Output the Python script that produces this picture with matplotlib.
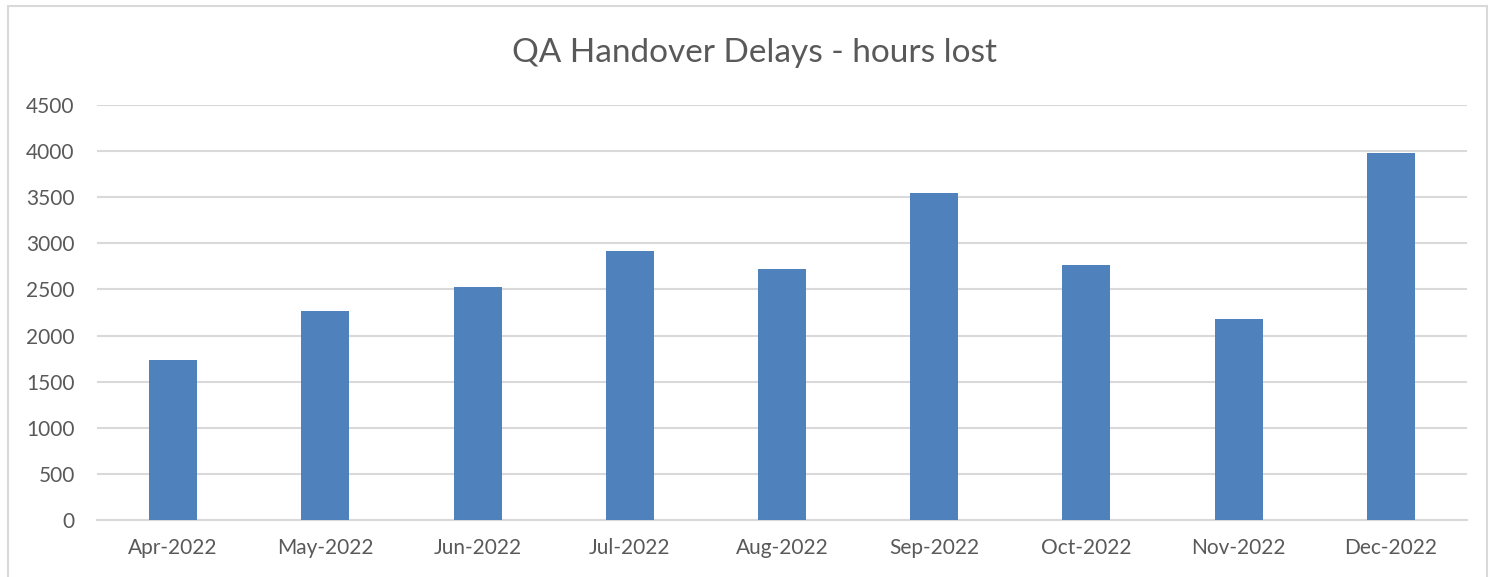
import matplotlib.pyplot as plt
from matplotlib.patches import Rectangle

months = ['Apr-2022', 'May-2022', 'Jun-2022', 'Jul-2022', 'Aug-2022',
          'Sep-2022', 'Oct-2022', 'Nov-2022', 'Dec-2022']
hours_lost = [1735, 2270, 2530, 2915, 2720, 3545, 2765, 2175, 3980]
y_ticks = [0, 500, 1000, 1500, 2000, 2500, 3000, 3500, 4000, 4500]

plt.rcParams['font.family'] = ['Lato', 'DejaVu Sans']
text_color = '#595959'
grid_color = '#d9d9d9'

fig = plt.figure(figsize=(15.01, 5.77), dpi=100)
ax = fig.add_axes([97 / 1501, 1 - 520 / 577, 1370 / 1501, 415 / 577])

ax.bar(range(len(months)), hours_lost, width=0.315, color='#4F81BD', zorder=3)

ax.set_xlim(-0.5, len(months) - 0.5)
ax.set_ylim(0, 4500)
ax.set_yticks(y_ticks)
ax.set_yticklabels([str(t) for t in y_ticks])
ax.set_xticks(range(len(months)))
ax.set_xticklabels(months)

ax.grid(axis='y', color=grid_color, linewidth=1.5, zorder=0)
for side in ['top', 'right', 'left']:
    ax.spines[side].set_visible(False)
ax.spines['bottom'].set_color(grid_color)
ax.spines['bottom'].set_linewidth(1.5)

ax.tick_params(axis='both', length=0, labelsize=15, labelcolor=text_color)
ax.tick_params(axis='y', pad=16)
ax.tick_params(axis='x', pad=13)

fig.text(754 / 1501, 1 - 53 / 577, 'QA Handover Delays - hours lost',
         ha='center', va='center', fontsize=24, color=text_color)

# outer chart border
fig.patches.append(Rectangle((8 / 1501, -0.02), 1479 / 1501, 1.02 - 6 / 577,
                             transform=fig.transFigure, fill=False,
                             edgecolor=grid_color, linewidth=1.5))

plt.savefig('out.png', dpi=100, facecolor='white')
